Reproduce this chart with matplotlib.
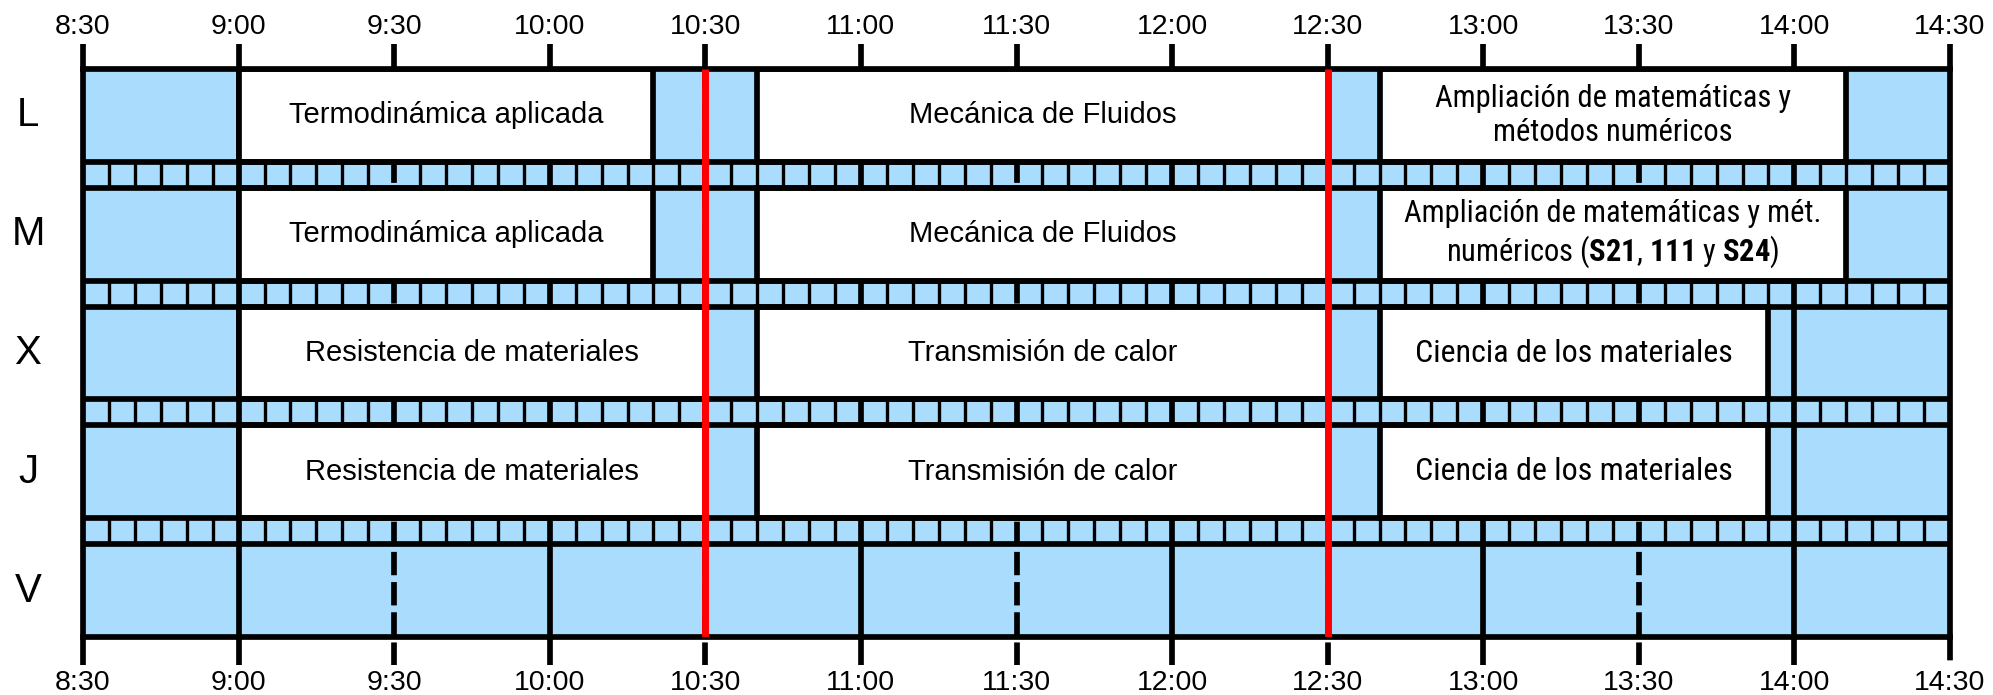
import matplotlib
matplotlib.use('Agg')
import matplotlib.pyplot as plt
from matplotlib.patches import Rectangle

# Timetable data
days = ['L', 'M', 'X', 'J', 'V']
time_labels = ['8:30', '9:00', '9:30', '10:00', '10:30', '11:00', '11:30',
               '12:00', '12:30', '13:00', '13:30', '14:00', '14:30']
red_times = ['10:30', '12:30']

cls_day = ['L', 'L', 'L', 'M', 'M', 'M', 'X', 'X', 'X', 'J', 'J', 'J']
cls_start = ['9:00', '10:40', '12:40', '9:00', '10:40', '12:40',
             '9:00', '10:40', '12:40', '9:00', '10:40', '12:40']
cls_end = ['10:20', '12:30', '14:10', '10:20', '12:30', '14:10',
           '10:30', '12:30', '13:55', '10:30', '12:30', '13:55']
cls_name = ['Termodinámica aplicada', 'Mecánica de Fluidos',
            'Ampliación de matemáticas y\nmétodos numéricos',
            'Termodinámica aplicada', 'Mecánica de Fluidos',
            'Ampliación de matemáticas y mét.\nnuméricos ($\\mathbf{S21}$, $\\mathbf{111}$ y $\\mathbf{S24}$)',
            'Resistencia de materiales', 'Transmisión de calor', 'Ciencia de los materiales',
            'Resistencia de materiales', 'Transmisión de calor', 'Ciencia de los materiales']
# condensed font size for the narrow labels (None = regular font)
cls_narrow = [None, None, 22, None, None, 22, None, None, 23, None, None, 23]

BLUE = '#aadcfe'
ROW = 1.0
STRIP = 0.28
LW = 4.1
NARROW = 'Roboto Condensed'


def mins(t):
    h, m = t.split(':')
    return (int(h) - 8) * 60 + int(m) - 30


plt.rcParams['font.family'] = 'Liberation Sans'
plt.rcParams['mathtext.fontset'] = 'custom'
plt.rcParams['mathtext.rm'] = NARROW
plt.rcParams['mathtext.bf'] = NARROW + ':bold'

fig = plt.figure(figsize=(19.93, 6.95), dpi=100)
ax = fig.add_axes([83 / 1993, 1 - 637 / 695, 1867 / 1993, 568 / 695])
total = len(days) * ROW + (len(days) - 1) * STRIP
ax.set_xlim(0, 360)
ax.set_ylim(total, 0)
ax.set_facecolor(BLUE)
for s in ax.spines.values():
    s.set_visible(False)
ax.set_yticks([])

xt = [mins(t) for t in time_labels]
top_tick = -0.27
bot_tick = total + 0.30
dash = (0, (4.1, 1.2))

# grid lines and ticks
for x in xt:
    if x % 60 == 30 and 0 < x < 360:   # full hours
        ax.plot([x, x], [top_tick, bot_tick], color='k', lw=LW,
                solid_capstyle='butt', clip_on=False, zorder=2)
    elif x == 0:
        ax.plot([x, x], [top_tick, bot_tick], color='k', lw=LW,
                solid_capstyle='butt', clip_on=False, zorder=5)
    elif x == 360:
        ax.plot([x, x], [top_tick, total], color='k', lw=LW,
                solid_capstyle='butt', clip_on=False, zorder=5)
        ax.plot([x, x], [total, bot_tick], color='k', lw=LW, ls=dash,
                dash_capstyle='butt', clip_on=False, zorder=5)
    else:                                # half hours
        ax.plot([x, x], [top_tick, 0], color='k', lw=LW,
                solid_capstyle='butt', clip_on=False, zorder=2)
        ax.plot([x, x], [0, bot_tick], color='k', lw=LW, ls=dash,
                dash_capstyle='butt', clip_on=False, zorder=2)

# film strips between days
for i in range(len(days) - 1):
    y0 = i * (ROW + STRIP) + ROW
    y1 = y0 + STRIP
    for x in range(5, 360, 5):
        if x % 30 != 0:
            ax.plot([x, x], [y0, y1], color='k', lw=2.4,
                    solid_capstyle='butt', zorder=2)
    ax.plot([0, 360], [y0, y0], color='k', lw=LW, zorder=4)
    ax.plot([0, 360], [y1, y1], color='k', lw=LW, zorder=4)

# classes
for d, s, e, name, nar in zip(cls_day, cls_start, cls_end, cls_name, cls_narrow):
    i = days.index(d)
    y = i * (ROW + STRIP)
    x0, x1 = mins(s), mins(e)
    ax.add_patch(Rectangle((x0, y), x1 - x0, ROW, facecolor='white',
                           edgecolor='k', lw=LW, zorder=3))
    if nar:
        ax.text((x0 + x1) / 2, y + ROW / 2, name, ha='center', va='center',
                fontsize=nar, family=NARROW, zorder=7, linespacing=1.2)
    else:
        ax.text((x0 + x1) / 2, y + ROW / 2, name, ha='center', va='center',
                fontsize=21, zorder=7)

# red lines
for t in red_times:
    x = mins(t)
    ax.plot([x, x], [0, total], color='#ff0000', lw=5, solid_capstyle='butt', zorder=6)

# outer border
ax.plot([0, 360], [0, 0], color='k', lw=LW, zorder=5, clip_on=False)
ax.plot([0, 360], [total, total], color='k', lw=LW, zorder=5, clip_on=False)

# day labels
for i, d in enumerate(days):
    ax.text(-10.6, i * (ROW + STRIP) + ROW / 2, d, ha='center', va='center',
            fontsize=29)

# time labels top and bottom
ax.set_xticks(xt, time_labels)
ax.tick_params(axis='x', length=0, pad=24, labelsize=20.5)
sec = ax.secondary_xaxis('top')
sec.set_xticks(xt, time_labels)
sec.tick_params(axis='x', length=0, pad=21, labelsize=20.5)
sec.spines['top'].set_visible(False)

fig.savefig('out.png', dpi=100)
